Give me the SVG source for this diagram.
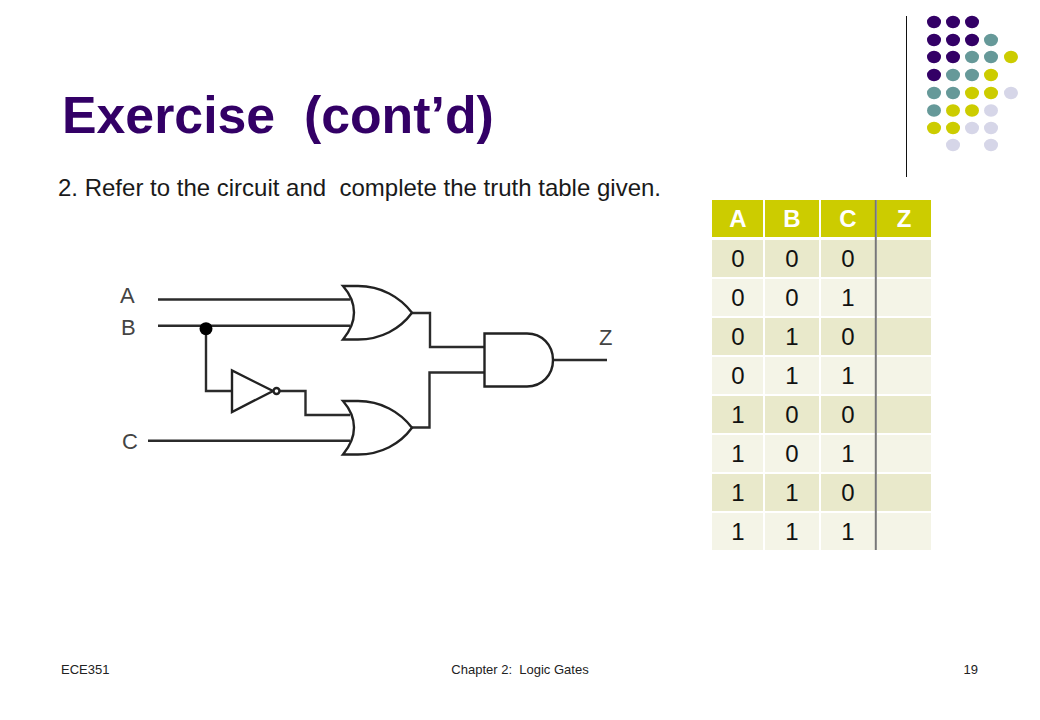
<svg xmlns="http://www.w3.org/2000/svg" width="1040" height="720" viewBox="0 0 1040 720">
<style>
text{font-family:"Liberation Sans",Arial,sans-serif}
.title{font-size:51.800px;font-weight:bold;fill:#330066}
.body{font-size:24px;fill:#1a1a1a}
.foot{font-size:13px;fill:#222}
.lab{font-size:22px;fill:#444}
.w{fill:none;stroke:#2b2b2b;stroke-width:2.400;stroke-linejoin:miter}
.g{fill:#fff;stroke:#222;stroke-width:2.400;stroke-linejoin:miter}
.p{fill:#330066}.t{fill:#669999}.y{fill:#cccc00}.l{fill:#d6d6e8}
.hd{fill:#cccc00}.r1{fill:#e9e9cb}.r2{fill:#f4f4e7}
.th{font-size:24px;font-weight:bold;fill:#fff;text-anchor:middle}
.td{font-size:24px;fill:#111;text-anchor:middle}
</style>
<defs>
<ellipse id="d" rx="7" ry="6.200"/>
<path id="org" d="M343 0C350 8 354 16 354 26.500C354 37 350 45 343 53.500L358 53.500C381 53.500 400 43 412 26.700C400 11 381 0 358 0Z"/>
</defs>
<rect width="1040" height="720" fill="#fff"/>
<text class="title" x="62" y="133" xml:space="preserve">Exercise  (cont’d)</text>
<text class="body" x="58" y="196" xml:space="preserve">2. Refer to the circuit and  complete the truth table given.</text>
<line x1="906.500" y1="16" x2="906.500" y2="177" stroke="#111" stroke-width="1"/>
<g id="dots">
<use href="#d" class="p" x="934" y="22"/><use href="#d" class="p" x="953" y="22"/><use href="#d" class="p" x="972" y="22"/>
<use href="#d" class="p" x="934" y="40"/><use href="#d" class="p" x="953" y="40"/><use href="#d" class="p" x="972" y="40"/><use href="#d" class="t" x="991" y="40"/>
<use href="#d" class="p" x="934" y="57"/><use href="#d" class="p" x="953" y="57"/><use href="#d" class="t" x="972" y="57"/><use href="#d" class="t" x="991" y="57"/><use href="#d" class="y" x="1011" y="57"/>
<use href="#d" class="p" x="934" y="75"/><use href="#d" class="t" x="953" y="75"/><use href="#d" class="t" x="972" y="75"/><use href="#d" class="y" x="991" y="75"/>
<use href="#d" class="t" x="934" y="93"/><use href="#d" class="t" x="953" y="93"/><use href="#d" class="y" x="972" y="93"/><use href="#d" class="y" x="991" y="93"/><use href="#d" class="l" x="1011" y="93"/>
<use href="#d" class="t" x="934" y="110.500"/><use href="#d" class="y" x="953" y="110.500"/><use href="#d" class="y" x="972" y="110.500"/><use href="#d" class="l" x="991" y="110.500"/>
<use href="#d" class="y" x="934" y="128"/><use href="#d" class="y" x="953" y="128"/><use href="#d" class="l" x="972" y="128"/><use href="#d" class="l" x="991" y="128"/>
<use href="#d" class="l" x="953" y="145"/><use href="#d" class="l" x="991" y="145"/>
</g>
<g id="connectors">
<path class="w" d="M158 299.500H350"/>
<path class="w" d="M158 325.700H350"/>
<path class="w" d="M206 326V391H232"/>
<path class="w" d="M280 391H305.500V415H350"/>
<path class="w" d="M148 440.700H350"/>
<path class="w" d="M412 313H430V347H484"/>
<path class="w" d="M412 427.500H429.500V372.500H484"/>
<path class="w" d="M553 360H607"/>
<circle cx="206" cy="328.700" r="6.500" fill="#000"/>
</g>
<g id="or1"><use href="#org" class="g" y="286"/></g>
<g id="or2"><use href="#org" class="g" y="401"/></g>
<g id="not"><path class="g" d="M232 370.500V412L273 391Z"/><circle class="g" cx="276.500" cy="391" r="3" stroke-width="2"/></g>
<g id="and"><path class="g" d="M484.500 333.500H527C542 333.500 553 345 553 360C553 375 542 386.500 527 386.500H484.500Z"/></g>
<g id="labels">
<text class="lab" x="120" y="303">A</text>
<text class="lab" x="121" y="335">B</text>
<text class="lab" x="122" y="449">C</text>
<text class="lab" x="599" y="345">Z</text>
</g>
<g id="table">
<rect class="hd" x="712" y="200" width="51" height="37"/><rect class="hd" x="765" y="200" width="54" height="37"/><rect class="hd" x="821" y="200" width="54" height="37"/><rect class="hd" x="877" y="200" width="54" height="37"/>
<g class="r1"><rect x="712" y="240" width="51" height="37"/><rect x="765" y="240" width="54" height="37"/><rect x="821" y="240" width="54" height="37"/><rect x="877" y="240" width="54" height="37"/>
<rect x="712" y="318" width="51" height="37"/><rect x="765" y="318" width="54" height="37"/><rect x="821" y="318" width="54" height="37"/><rect x="877" y="318" width="54" height="37"/>
<rect x="712" y="396" width="51" height="37"/><rect x="765" y="396" width="54" height="37"/><rect x="821" y="396" width="54" height="37"/><rect x="877" y="396" width="54" height="37"/>
<rect x="712" y="474" width="51" height="37"/><rect x="765" y="474" width="54" height="37"/><rect x="821" y="474" width="54" height="37"/><rect x="877" y="474" width="54" height="37"/></g>
<g class="r2"><rect x="712" y="279" width="51" height="37"/><rect x="765" y="279" width="54" height="37"/><rect x="821" y="279" width="54" height="37"/><rect x="877" y="279" width="54" height="37"/>
<rect x="712" y="357" width="51" height="37"/><rect x="765" y="357" width="54" height="37"/><rect x="821" y="357" width="54" height="37"/><rect x="877" y="357" width="54" height="37"/>
<rect x="712" y="435" width="51" height="37"/><rect x="765" y="435" width="54" height="37"/><rect x="821" y="435" width="54" height="37"/><rect x="877" y="435" width="54" height="37"/>
<rect x="712" y="513" width="51" height="37"/><rect x="765" y="513" width="54" height="37"/><rect x="821" y="513" width="54" height="37"/><rect x="877" y="513" width="54" height="37"/></g>
<line x1="875.800" y1="200" x2="875.800" y2="550" stroke="#777" stroke-width="2"/>
<text class="th" x="738" y="227">A</text><text class="th" x="792" y="227">B</text><text class="th" x="848" y="227">C</text><text class="th" x="904" y="227">Z</text>
<text class="td" x="738" y="267">0</text><text class="td" x="792" y="267">0</text><text class="td" x="848" y="267">0</text>
<text class="td" x="738" y="306">0</text><text class="td" x="792" y="306">0</text><text class="td" x="848" y="306">1</text>
<text class="td" x="738" y="345">0</text><text class="td" x="792" y="345">1</text><text class="td" x="848" y="345">0</text>
<text class="td" x="738" y="384">0</text><text class="td" x="792" y="384">1</text><text class="td" x="848" y="384">1</text>
<text class="td" x="738" y="423">1</text><text class="td" x="792" y="423">0</text><text class="td" x="848" y="423">0</text>
<text class="td" x="738" y="462">1</text><text class="td" x="792" y="462">0</text><text class="td" x="848" y="462">1</text>
<text class="td" x="738" y="501">1</text><text class="td" x="792" y="501">1</text><text class="td" x="848" y="501">0</text>
<text class="td" x="738" y="540">1</text><text class="td" x="792" y="540">1</text><text class="td" x="848" y="540">1</text>
</g>
<text class="foot" x="61" y="674">ECE351</text>
<text class="foot" x="520" y="674" text-anchor="middle" xml:space="preserve">Chapter 2:  Logic Gates</text>
<text class="foot" x="978" y="674" text-anchor="end">19</text>
</svg>
